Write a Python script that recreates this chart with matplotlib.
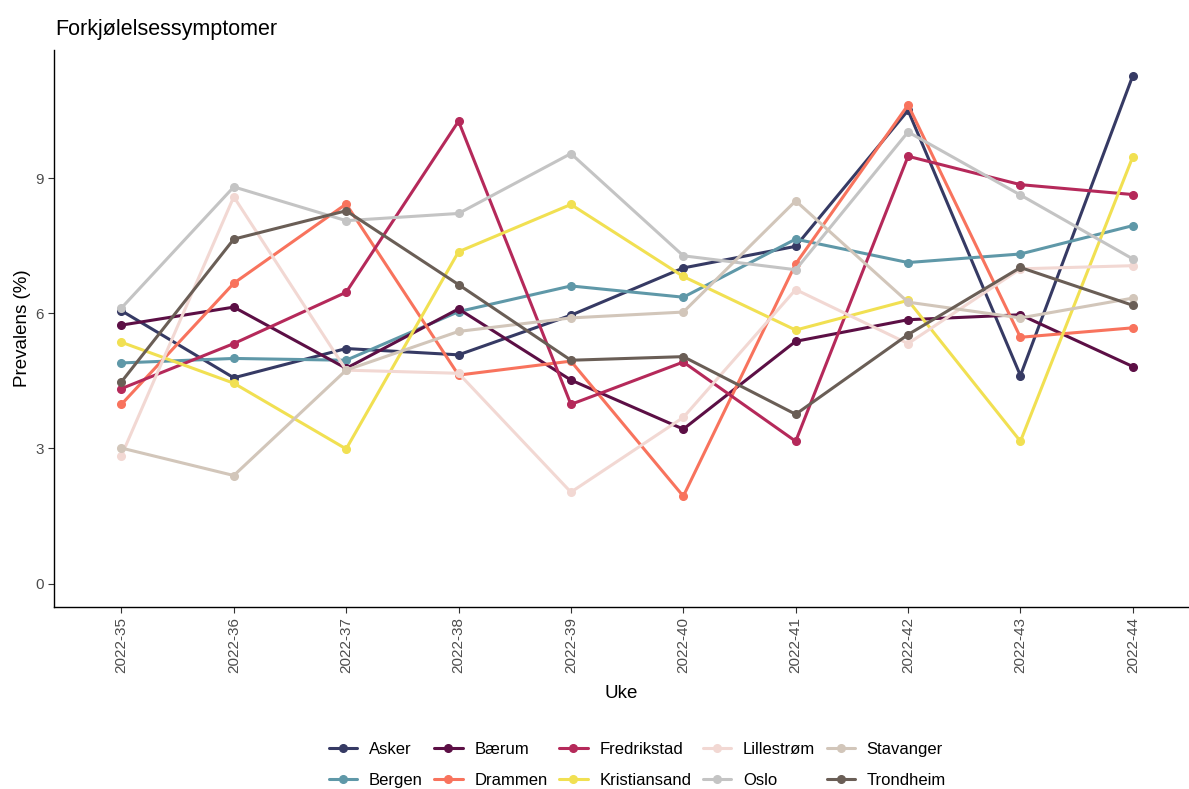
import numpy as np
import matplotlib
matplotlib.use("Agg")
import matplotlib.pyplot as plt

plt.rcParams['font.family'] = ['Liberation Sans', 'DejaVu Sans']

# weeks on the x axis
weeks = ["2022-35", "2022-36", "2022-37", "2022-38", "2022-39",
         "2022-40", "2022-41", "2022-42", "2022-43", "2022-44"]

# prevalence (%) per city
asker        = [6.06, 4.57, 5.22, 5.08, 5.96, 7.01, 7.49, 10.51, 4.62, 11.28]
baerum       = [5.74, 6.14, 4.78, 6.10, 4.52, 3.43, 5.38, 5.86, 5.97, 4.82]
fredrikstad  = [4.33, 5.33, 6.47, 10.27, 3.98, 4.92, 3.16, 9.49, 8.86, 8.64]
lillestrom   = [2.84, 8.59, 4.74, 4.67, 2.03, 3.69, 6.53, 5.33, 6.99, 7.06]
stavanger    = [3.01, 2.40, 4.74, 5.60, 5.90, 6.03, 8.50, 6.25, 5.90, 6.34]
bergen       = [4.90, 5.00, 4.96, 6.04, 6.61, 6.36, 7.65, 7.13, 7.32, 7.95]
drammen      = [3.98, 6.67, 8.43, 4.63, 4.94, 1.94, 7.10, 10.63, 5.47, 5.68]
kristiansand = [5.36, 4.45, 2.99, 7.37, 8.42, 6.82, 5.63, 6.29, 3.16, 9.48]
oslo         = [6.12, 8.81, 8.06, 8.22, 9.55, 7.28, 6.97, 10.03, 8.63, 7.21]
trondheim    = [4.48, 7.65, 8.28, 6.64, 4.96, 5.04, 3.76, 5.53, 7.02, 6.18]

cities = ["Asker", "Bærum", "Fredrikstad", "Lillestrøm", "Stavanger",
          "Bergen", "Drammen", "Kristiansand", "Oslo", "Trondheim"]
series = [asker, baerum, fredrikstad, lillestrom, stavanger,
          bergen, drammen, kristiansand, oslo, trondheim]
colors = ["#363a64", "#5c0f45", "#b5295a", "#f2d8d3", "#d2c6ba",
          "#5f98a8", "#f8735d", "#f1e052", "#c4c4c4", "#6a5e56"]

# legend order is alphabetical, filled column by column
order = np.argsort(cities)

fig = plt.figure(figsize=(11.89, 7.89), dpi=100)
ax = fig.add_axes([0.0454, 0.2307, 0.9546, 0.7059])

x = np.arange(len(weeks))
for i in order:
    ax.plot(x, series[i], "-o", color=colors[i], lw=2.2, ms=5.5,
            label=cities[i], solid_capstyle="round")

ax.set_xlim(-0.6, 9.5)
ax.set_ylim(-0.52, 11.85)
ax.set_yticks([0, 3, 6, 9])
ax.set_xticks(x)
ax.set_xticklabels(weeks, rotation=90)
ax.tick_params(axis="both", colors="#333333", labelcolor="#4d4d4d",
               labelsize=11, length=4, width=0.8)

for s in ["top", "right"]:
    ax.spines[s].set_visible(False)
for s in ["left", "bottom"]:
    ax.spines[s].set_linewidth(1.0)

ax.set_xlabel("Uke", fontsize=13.5, labelpad=8)
ax.set_ylabel("Prevalens (%)", fontsize=13.5, labelpad=3)

fig.text(0.0462, 0.963, "Forkjølelsessymptomer", fontsize=15.5, va="center", ha="left")

ax.legend(loc="center", bbox_to_anchor=(0.514, -0.283),
          ncol=5, frameon=False, fontsize=12, handlelength=1.7,
          columnspacing=0.7, handletextpad=0.7, labelspacing=0.95)

fig.savefig("out.png", dpi=100)
